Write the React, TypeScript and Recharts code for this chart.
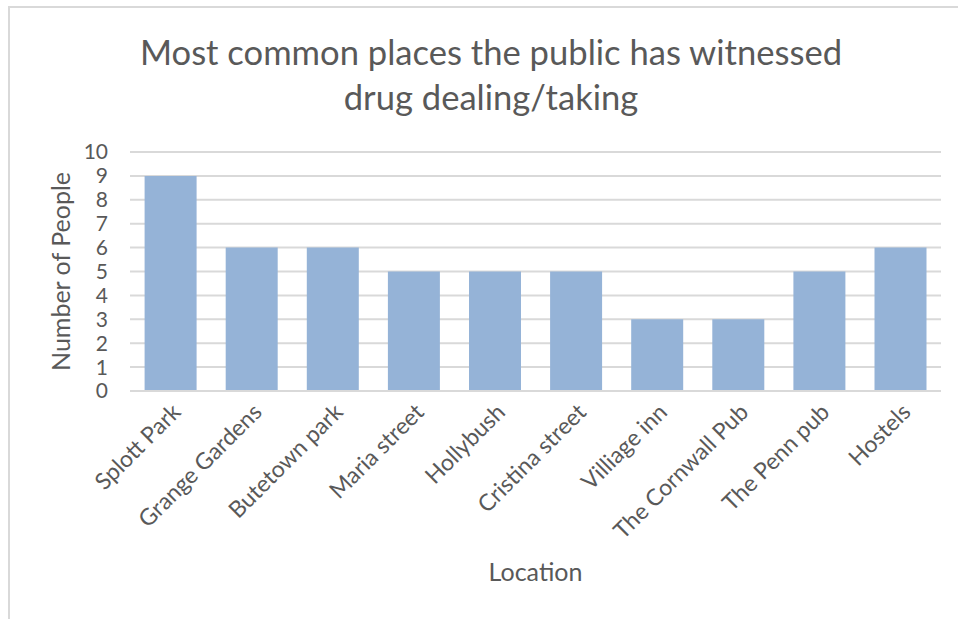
import { BarChart, Bar, XAxis, YAxis, CartesianGrid } from "recharts";

const locations = [
  "Splott Park",
  "Grange Gardens",
  "Butetown park",
  "Maria street",
  "Hollybush",
  "Cristina street",
  "Villiage inn",
  "The Cornwall Pub",
  "The Penn pub",
  "Hostels",
];
const people = [9, 6, 6, 5, 5, 5, 3, 3, 5, 6];
const yTicks = [0, 1, 2, 3, 4, 5, 6, 7, 8, 9, 10];

const chartData = locations.map((name, i) => ({ name, people: people[i] }));

const FONT = "Lato, 'Open Sans', sans-serif";
const TEXT = "#595959";

export default function App() {
  return (
    <div style={{ position: "absolute", left: 0, top: 0, width: 958, height: 619, background: "#fff", fontFamily: FONT }}>
      {/* chart frame, only top/left edges visible in the crop */}
      <div
        style={{
          position: "absolute",
          left: 8,
          top: 6,
          width: 960,
          height: 620,
          borderTop: "2px solid #D9D9D9",
          borderLeft: "2px solid #D9D9D9",
        }}
      />
      <div
        style={{
          position: "absolute",
          left: 0,
          top: 29,
          width: 982,
          textAlign: "center",
          fontSize: 34.6,
          lineHeight: "45px",
          color: TEXT,
        }}
      >
        Most common places the public has witnessed
        <br />
        drug dealing/taking
      </div>
      <div style={{ position: "absolute", left: 0, top: 0 }}>
        <BarChart
          width={958}
          height={619}
          data={chartData}
          margin={{ top: 152, right: 17, left: 0, bottom: 33 }}
          barCategoryGap="18%"
        >
          <CartesianGrid vertical={false} stroke="#D9D9D9" strokeWidth={2} />
          <XAxis
            dataKey="name"
            interval={0}
            height={195}
            angle={-45}
            textAnchor="end"
            tickLine={false}
            axisLine={{ stroke: "#D9D9D9", strokeWidth: 2 }}
            tick={{ fill: TEXT, fontSize: 23, fontFamily: FONT }}
            tickMargin={5}
            label={{ value: "Location", position: "insideBottom", fill: TEXT, fontSize: 25, fontFamily: FONT }}
          />
          <YAxis
            domain={[0, 10]}
            ticks={yTicks}
            interval={0}
            width={130}
            axisLine={false}
            tickLine={false}
            tickSize={0}
            tickMargin={22}
            tick={{ fill: TEXT, fontSize: 21, fontFamily: FONT }}
            label={{ value: "Number of People", angle: -90, position: "center", dx: -4, fill: TEXT, fontSize: 25, fontFamily: FONT }}
          />
          <Bar dataKey="people" fill="#95B3D7" isAnimationActive={false} />
        </BarChart>
      </div>
    </div>
  );
}
